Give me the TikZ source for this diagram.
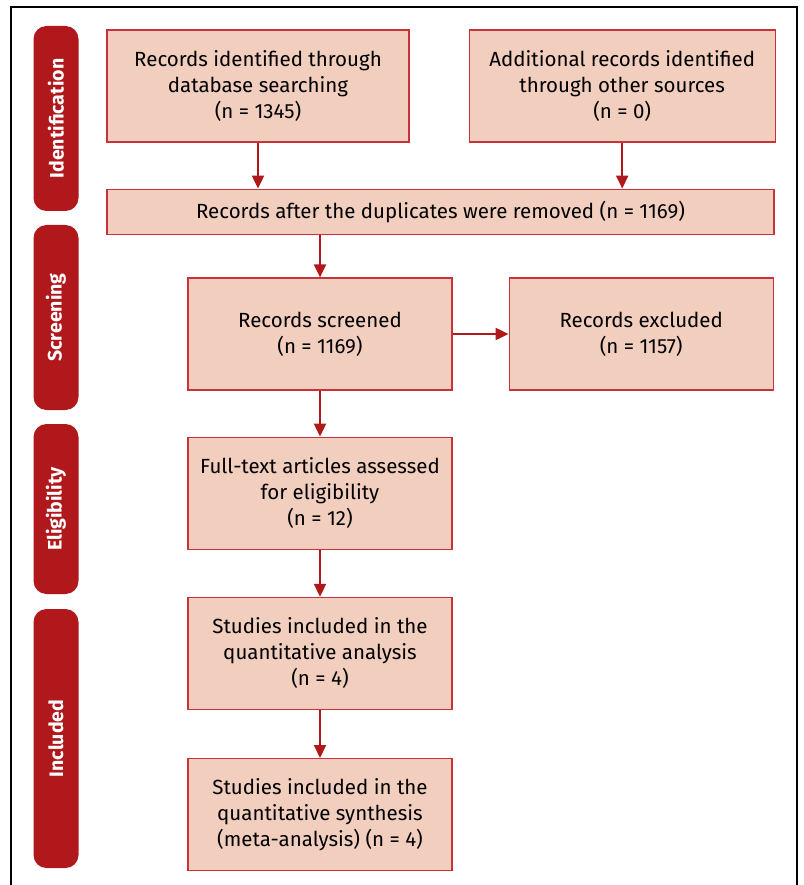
\documentclass[tikz,border=0pt]{standalone}
\usepackage{fontspec}
\setmainfont{Fira Sans}
\usetikzlibrary{arrows.meta,positioning}
\definecolor{boxfill}{HTML}{F2CEBE}
\definecolor{boxline}{HTML}{C8323A}
\definecolor{barred}{HTML}{B0181C}
\tikzset{
  flowbox/.style={rectangle,draw=boxline,fill=boxfill,line width=1.2pt,
    align=center,inner sep=0pt,minimum height=112pt,
    font=\fontsize{20.5}{26}\selectfont},
  stagebar/.style={rectangle,rounded corners=13pt,fill=barred,text=white,
    rotate=90,minimum height=45pt,inner sep=0pt,
    font=\fontsize{19.5}{22}\selectfont\bfseries},
  arrow/.style={-{Triangle[length=13pt,width=12pt]},line width=2pt,draw=barred},
}

\begin{document}
\begin{tikzpicture}[x=1pt,y=-1pt]
  \useasboundingbox (0,0) rectangle (803,885);

  %% -- outer frame ----------------------------------------------------------
  \draw[line width=1.2pt] (11,885) -- (11,7) -- (797,7) -- (797,885);

  %% -- stage bars -----------------------------------------------------------
  \node[stagebar,minimum width=185pt] (ident)  at (56,118.5) {Identification};
  \node[stagebar,minimum width=185pt] (screen) at (56,317.5) {Screening};
  \node[stagebar,minimum width=170pt] (elig)   at (56,509)   {Eligibility};
  \node[stagebar,minimum width=259pt] (incl)   at (56,738.5) {Included};

  %% -- identification -------------------------------------------------------
  \node[flowbox,minimum width=302pt] (dbrec) at (258,86)
    {Records identified through\\database searching\\(n = 1345)};
  \node[flowbox,minimum width=306pt,right=59pt of dbrec] (otherrec)
    {Additional records identified\\through other sources\\(n = 0)};
  \node[flowbox,minimum width=667pt,minimum height=45pt,
    below=46pt of dbrec.south west,anchor=north west] (dedup)
    {Records after the duplicates were removed (n = 1169)};

  %% -- screening ------------------------------------------------------------
  \node[flowbox,minimum width=264pt] (screened) at (320,334)
    {Records screened\\(n = 1169)};
  \node[flowbox,minimum width=264pt,right=56pt of screened] (excluded)
    {Records excluded\\(n = 1157)};

  %% -- eligibility / included -----------------------------------------------
  \node[flowbox,minimum width=264pt,below=46pt of screened] (fulltext)
    {Full-text articles assessed\\for eligibility\\(n = 12)};
  \node[flowbox,minimum width=264pt,below=47pt of fulltext] (quant)
    {Studies included in the\\quantitative analysis\\(n = 4)};
  \node[flowbox,minimum width=264pt,below=48pt of quant] (synth)
    {Studies included in the\\quantitative synthesis\\(meta-analysis) (n = 4)};

  %% -- arrows ---------------------------------------------------------------
  \draw[arrow] (dbrec.south)    -- (dbrec.south |- dedup.north);
  \draw[arrow] (otherrec.south) -- (otherrec.south |- dedup.north);
  \draw[arrow] (screened.north |- dedup.south) -- (screened.north);
  \draw[arrow] (screened.east)  -- (excluded.west);
  \draw[arrow] (screened.south) -- (fulltext.north);
  \draw[arrow] (fulltext.south) -- (quant.north);
  \draw[arrow] (quant.south)    -- (synth.north);

\end{tikzpicture}
\end{document}
